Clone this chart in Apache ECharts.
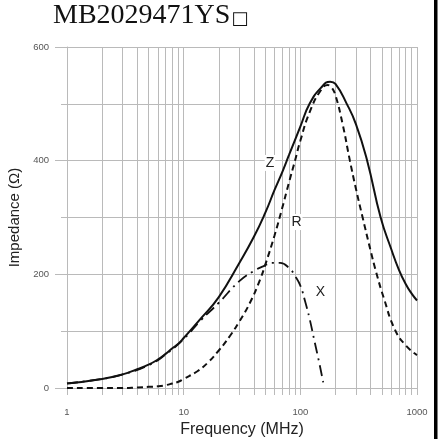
<!DOCTYPE html>
<html>
<head>
<meta charset="utf-8">
<script src="https://cdn.jsdelivr.net/npm/echarts@6/dist/echarts.min.js"></script>
<style>
html,body{margin:0;padding:0;background:#fff;}
#chart{width:444px;height:439px;}
</style>
</head>
<body>
<div id="chart"></div>
<script>
// ---- data ----
const titleText = "MB2029471YS\u25A1";
const xTickValues = [1,2,3,4,5,6,7,8,9,10,20,30,40,50,60,70,80,90,100,200,300,400,500,600,700,800,900,1000];
const xLabelValues = [1,10,100,1000];

const freqZ = [1,2,3,4,5,6,7,8,9,10,14,20,30,40,50,60,70,80,100,120,150,180,200,250,300,374,488,600,700,800,900,1000];
const valZ  = [8,16,24,33,41,50,60,70,78,88,122,160,220,266,308,348,380,410,460,500,528,539,535,500,464,400,300,245,208,183,166,154];

const freqR = [1,2,3,4,5,6,7,8,9,10,13,16,20,25,30,37,45,51,60,70,80,90,100,120,150,172,185,200,230,266,300,342,400,445,520,646,800,1000];
const valR  = [0,0,0,1,2,3,5,8,11,16,29,44,66,92,117,150,190,222,268,317,362,400,435,485,524,533,529,515,465,400,350,300,242,205,158,103,75,58];

const freqX = [1,2,3,5,7,10,14,20,30,40,48,57,67,81,90,100,110,120,133,145,157];
const valX  = [8,16,24,40,59,86,119,150,188,206,214,220,220,210,197,180,152,122,80,45,10];

const curveLabels = ["Z","R","X"];
const labelCoords = [[54.9,396],[92.6,292],[148.6,168]];

function pairs(f, v){ return f.map((x,i)=>[x, v[i]]); }

const chart = echarts.init(document.getElementById('chart'), null, {renderer:'canvas'});
const gridColor = '#bababa';
const sans = 'Liberation Sans, Arial, sans-serif';
const labelStyle = {
  show:true, position:'inside', fontSize:14, color:'#222', fontFamily:sans,
  backgroundColor:'#fff', padding:[1,1]
};
function mp(i){
  return {
    symbol:'circle', symbolSize:0, silent:true,
    label: Object.assign({formatter: curveLabels[i]}, labelStyle),
    data:[{coord: labelCoords[i]}]
  };
}
const titleRich = '{a|' + titleText.slice(0,-1) + '}{b|' + titleText.slice(-1) + '}';

chart.setOption({
  animation:false,
  backgroundColor:'#fff',
  grid:{left:67, right:27, top:47, bottom:51, containLabel:false, outerBoundsMode:'none'},
  xAxis:{
    type:'log', logBase:10, min:1, max:1000,
    name:'Frequency (MHz)', nameLocation:'middle', nameGap:30,
    nameTextStyle:{fontSize:16, color:'#222', fontFamily:sans},
    axisLine:{show:true, lineStyle:{color:gridColor, width:1}},
    axisTick:{show:true, length:7, customValues:xTickValues, lineStyle:{color:gridColor}},
    axisLabel:{customValues:xLabelValues, fontSize:9.5, color:'#555', margin:19, fontFamily:sans,
      formatter:function(v){ return String(Math.round(v)); }},
    splitLine:{show:true, lineStyle:{color:gridColor, width:1}}
  },
  yAxis:{
    type:'value', min:0, max:600, interval:200,
    name:'Impedance (\u03A9)', nameLocation:'middle', nameGap:45,
    nameTextStyle:{fontSize:15, color:'#222', fontFamily:sans},
    axisLine:{show:true, lineStyle:{color:gridColor}},
    axisTick:{show:true, length:12, lineStyle:{color:gridColor}},
    minorTick:{show:true, splitNumber:2, length:6, lineStyle:{color:gridColor}},
    axisLabel:{fontSize:9.5, color:'#555', margin:18, fontFamily:sans},
    splitLine:{show:true, lineStyle:{color:gridColor}},
    minorSplitLine:{show:true, lineStyle:{color:gridColor}}
  },
  series:[
    {name:'Z', type:'line', data:pairs(freqZ,valZ), smooth:0.5, showSymbol:false, symbol:'none',
      lineStyle:{color:'#111', width:2, type:'solid'}, z:4, markPoint:mp(0)},
    {name:'R', type:'line', data:pairs(freqR,valR), smooth:0.5, showSymbol:false, symbol:'none',
      lineStyle:{color:'#111', width:2, type:[6,4]}, z:3, markPoint:mp(1)},
    {name:'X', type:'line', data:pairs(freqX,valX), smooth:0.5, showSymbol:false, symbol:'none',
      lineStyle:{color:'#111', width:1.8, type:[11,5,2,5]}, z:2, markPoint:mp(2)}
  ],
  graphic:[
    {type:'text', left:53, top:2, style:{text:titleRich, fill:'#111',
      rich:{
        a:{font:'28px "Liberation Serif", "Times New Roman", serif', fill:'#111', verticalAlign:'bottom'},
        b:{font:'18px "DejaVu Sans", sans-serif', fill:'#111', verticalAlign:'bottom', padding:[0,0,2,1]}
      }}},
    {type:'rect', left:434, top:0, shape:{x:0,y:0,width:3.5,height:439}, style:{fill:'#000'}}
  ]
});
</script>
</body>
</html>
